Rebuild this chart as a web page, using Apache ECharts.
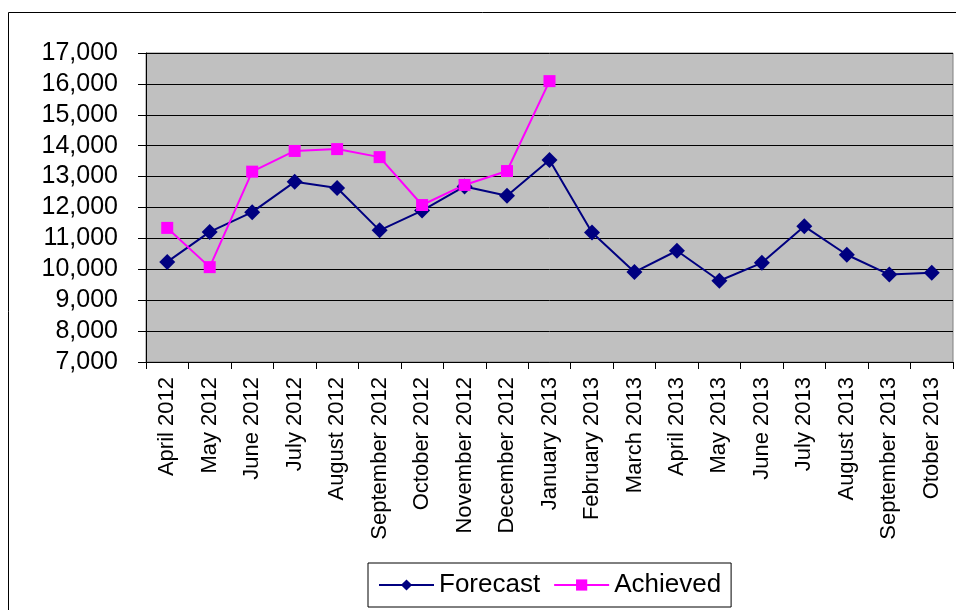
<!DOCTYPE html>
<html>
<head>
<meta charset="utf-8">
<script src="https://cdn.jsdelivr.net/npm/echarts@6/dist/echarts.min.js"></script>
<style>
  html, body { margin: 0; padding: 0; background: #fff; }
  #main { width: 956px; height: 610px; }
</style>
</head>
<body>
<div id="main"></div>
<script>
var months = [
  "April 2012", "May 2012", "June 2012", "July 2012", "August 2012",
  "September 2012", "October 2012", "November 2012", "December 2012",
  "January 2013", "February 2013", "March 2013", "April 2013", "May 2013",
  "June 2013", "July 2013", "August 2013", "September 2013", "Otober 2013"
];
var forecast = [10240, 11210, 11850, 12830, 12630, 11260, 11900, 12680, 12380,
  13540, 11190, 9910, 10600, 9630, 10210, 11390, 10470, 9830, 9890];
var achieved = [11340, 10070, 13160, 13830, 13890, 13630, 12080, 12730, 13180, 16090];

var chartDom = document.getElementById("main");
var myChart = echarts.init(chartDom);
var font = "Liberation Sans, Arial, sans-serif";

var option = {
  animation: false,
  textStyle: { fontFamily: font, color: "#000" },
  graphic: [
    {
      type: "rect",
      shape: { x: 8.5, y: 12.5, width: 960, height: 620 },
      style: { fill: "none", stroke: "#000", lineWidth: 1 },
      z: -10,
    },
  ],
  legend: {
    left: 368,
    top: 563,
    orient: "horizontal",
    borderColor: "#000",
    borderWidth: 1,
    padding: [9, 10, 9, 10],
    itemWidth: 55,
    itemHeight: 14,
    itemGap: 13,
    textStyle: { fontSize: 26, fontFamily: font, color: "#000" },
    data: ["Forecast", "Achieved"],
  },
  grid: {
    left: 146,
    right: 3,
    top: 53,
    bottom: 248,
    show: true,
    backgroundColor: "#c0c0c0",
    borderColor: "#808080",
    borderWidth: 1,
  },
  xAxis: {
    type: "category",
    data: months,
    boundaryGap: true,
    axisLine: { lineStyle: { color: "#000", width: 1 } },
    axisTick: { show: true, length: 7, alignWithLabel: false, lineStyle: { color: "#000" } },
    axisLabel: {
      rotate: 90,
      interval: 0,
      margin: 15,
      fontSize: 22,
      fontFamily: font,
      color: "#000",
    },
  },
  yAxis: {
    type: "value",
    min: 7000,
    max: 17000,
    interval: 1000,
    axisLine: { show: true, lineStyle: { color: "#000", width: 1 } },
    axisTick: { show: true, length: 8, lineStyle: { color: "#000" } },
    splitLine: { show: true, lineStyle: { color: "#000", width: 1 } },
    axisLabel: {
      fontSize: 25,
      fontFamily: font,
      color: "#000",
      margin: 28,
      formatter: function (v) {
        return v.toLocaleString("en-US");
      },
    },
  },
  series: [
    {
      name: "Forecast",
      type: "line",
      data: forecast,
      symbol: "diamond",
      symbolSize: 16,
      itemStyle: { color: "#000080" },
      lineStyle: { color: "#000080", width: 2 },
    },
    {
      name: "Achieved",
      type: "line",
      data: achieved,
      symbol: "rect",
      symbolSize: 12,
      itemStyle: { color: "#ff00ff" },
      lineStyle: { color: "#ff00ff", width: 2 },
    },
  ],
};
myChart.setOption(option);
</script>
</body>
</html>
